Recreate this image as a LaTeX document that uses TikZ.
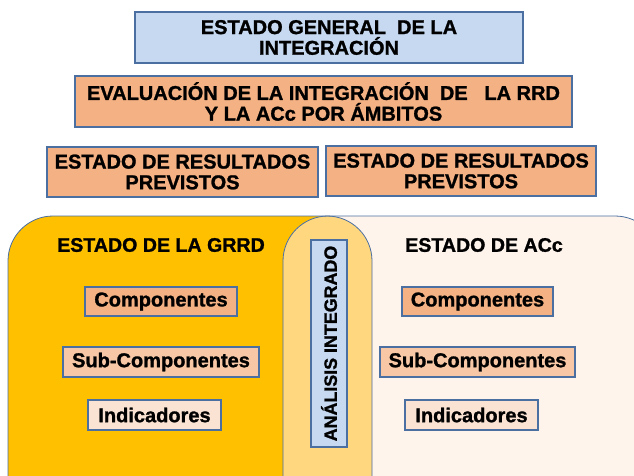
\documentclass[tikz,border=0pt]{standalone}
\usepackage{fontspec}
\setmainfont[BoldFeatures={FakeBold=1.2}]{Liberation Sans}
\definecolor{bluefill}{HTML}{C6D9F1}
\definecolor{bordblue}{HTML}{4A6FA0}
\definecolor{salmon}{HTML}{F4B183}
\definecolor{salmonB}{HTML}{F7C7A6}
\definecolor{salmonC}{HTML}{FBE3D3}
\definecolor{gold}{HTML}{FFC000}
\definecolor{cream}{HTML}{FEF4EC}
\definecolor{overlap}{HTML}{FFD77E}
\tikzset{
  box/.style={draw=bordblue, line width=0.8pt, inner sep=0pt, align=center,
     font=\fontsize{15}{15.5}\selectfont\bfseries},
  small/.style={draw=bordblue, line width=0.8pt, inner sep=0pt,
     font=\fontsize{15}{15}\selectfont\bfseries},
  head/.style={font=\fontsize{14.7}{15.5}\selectfont\bfseries, inner sep=0pt}
}
\begin{document}
\begin{tikzpicture}[x=0.75pt,y=-0.75pt]
\useasboundingbox (0,0) rectangle (634,475);
\clip (0,0) rectangle (634,475);
% top boxes
\node[box, fill=bluefill, minimum width=388*0.75pt, minimum height=51*0.75pt] (gen) at (329,37.5) {ESTADO GENERAL\ \ DE LA\\INTEGRACIÓN};
\node[box, fill=salmon, minimum width=497*0.75pt, minimum height=51*0.75pt] (eval) at (323.5,101.5) {EVALUACIÓN DE LA INTEGRACIÓN\ \ DE\ \ \ LA RRD\\Y LA ACc POR ÁMBITOS};
\node[box, fill=salmon, minimum width=271*0.75pt, minimum height=50*0.75pt] (resL) at (182.5,172) {ESTADO DE RESULTADOS\\PREVISTOS};
\node[box, fill=salmon, minimum width=270*0.75pt, minimum height=50*0.75pt] (resR) at (461,171) {ESTADO DE RESULTADOS\\PREVISTOS};
% regions
\fill[gold] [rounded corners=45*0.75pt] (8,216) rectangle (372,520);
\fill[cream] [rounded corners=45*0.75pt] (283,216) rectangle (660,520);
\begin{scope}
\clip[rounded corners=45*0.75pt] (8,216) rectangle (372,520);
\fill[overlap] [rounded corners=45*0.75pt] (283,216) rectangle (660,520);
\end{scope}
\draw[bordblue, line width=0.6pt, rounded corners=45*0.75pt] (8,216) rectangle (372,520);
\draw[bordblue, line width=0.6pt, rounded corners=45*0.75pt] (283,216) rectangle (660,520);
% headings
\node[head] (hL) at (161,245) {ESTADO DE LA GRRD};
\node[head] (hR) at (484,245) {ESTADO DE ACc};
% center
\node[box, font=\fontsize{13.4}{15}\selectfont\bfseries, fill=bluefill, minimum width=207*0.75pt, minimum height=36*0.75pt, rotate=90] (ana) at (329,343.5) {ANÁLISIS INTEGRADO};
% left column
\node[small, fill=salmon, minimum width=152*0.75pt, minimum height=29*0.75pt] (cL) at (161,301.5) {Componentes};
\node[small, fill=salmonB, minimum width=196*0.75pt, minimum height=30*0.75pt] (sL) at (161,362) {Sub-Componentes};
\node[small, fill=salmonC, minimum width=133*0.75pt, minimum height=30*0.75pt] (iL) at (154.5,415) {Indicadores};
% right column
\node[small, fill=salmon, minimum width=151*0.75pt, minimum height=29*0.75pt] (cR) at (477.5,301.5) {Componentes};
\node[small, fill=salmonB, minimum width=195*0.75pt, minimum height=30*0.75pt] (sR) at (477.5,362) {Sub-Componentes};
\node[small, fill=salmonC, minimum width=133*0.75pt, minimum height=30*0.75pt] (iR) at (471.5,415) {Indicadores};
\end{tikzpicture}
\end{document}
